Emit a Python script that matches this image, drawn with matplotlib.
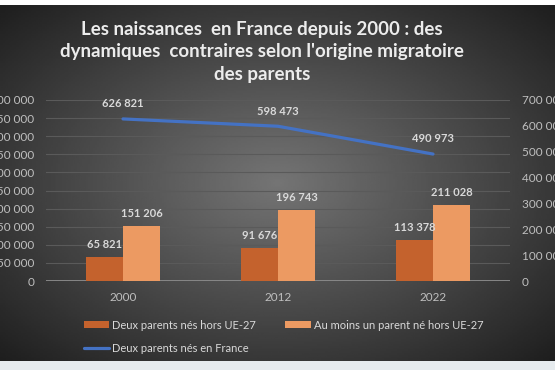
import matplotlib.pyplot as plt
import numpy as np
from matplotlib.patches import Rectangle

plt.rcParams['font.family'] = ['Lato', 'DejaVu Sans']

# data -----------------------------------
years = ['2000', '2012', '2022']
hors_ue = [65821, 91676, 113378]
un_parent_hors_ue = [151206, 196743, 211028]
parents_france = [626821, 598473, 490973]

title = ("Les naissances  en France depuis 2000 : des\n"
         "dynamiques  contraires selon l'origine migratoire\n"
         "des parents")


def fmt(v):
    return '{:,}'.format(int(v)).replace(',', ' ')


# figure -----------------------------------
fig = plt.figure(figsize=(5.55, 3.7), dpi=100)
fig.patch.set_facecolor('white')
fig.patches.append(Rectangle((0, 0), 1, 9 / 370, transform=fig.transFigure,
                             facecolor='#e6ebee', edgecolor='none', zorder=0))

# dark radial background
bg = fig.add_axes([0, 9 / 370, 1, 356 / 370])
yy, xx = np.mgrid[-1:1:200j, -1:1:300j]
r = np.sqrt(xx ** 2 + yy ** 2) / np.sqrt(2)
bg.imshow(r, cmap='gray_r', vmin=-1.6, vmax=1.35, aspect='auto',
          extent=[0, 1, 0, 1], interpolation='bilinear')
bg.set_axis_off()

ax = fig.add_axes([45.5 / 555, 89 / 370, 465 / 555, 181 / 370])
ax.set_facecolor('none')
ax2 = ax.twinx()

x = np.arange(len(years))
w = 0.24
txt = '#d9d9d9'

ax.bar(x - w / 2, hors_ue, width=w, color='#c4622d', label='Deux parents nés hors UE-27', zorder=3)
ax.bar(x + w / 2, un_parent_hors_ue, width=w, color='#ec9a62',
       label='Au moins un parent né hors UE-27', zorder=3)
ax2.plot(x, parents_france, color='#4472c4', lw=2.3, solid_capstyle='round',
         label='Deux parents nés en France', zorder=4)

for i in range(len(years)):
    ax.annotate(fmt(hors_ue[i]), (x[i] - w / 2, hors_ue[i]), xytext=(0, 5),
                textcoords='offset points', ha='center', va='bottom',
                color=txt, fontsize=8, fontweight='bold')
    ax.annotate(fmt(un_parent_hors_ue[i]), (x[i] + w / 2, un_parent_hors_ue[i]), xytext=(0, 5),
                textcoords='offset points', ha='center', va='bottom',
                color=txt, fontsize=8, fontweight='bold')
    ax2.annotate(fmt(parents_france[i]), (x[i], parents_france[i]), xytext=(0, 7),
                 textcoords='offset points', ha='center', va='bottom',
                 color=txt, fontsize=8, fontweight='bold')

ax.set_xlim(-0.5, 2.5)
ax.set_ylim(0, 500000)
ax2.set_ylim(0, 700000)
ax.set_yticks(np.arange(0, 500001, 50000))
ax2.set_yticks(np.arange(0, 700001, 100000))
ax.yaxis.set_major_formatter(plt.FuncFormatter(lambda v, p: fmt(v)))
ax2.yaxis.set_major_formatter(plt.FuncFormatter(lambda v, p: fmt(v)))
ax.set_xticks(x)
ax.set_xticklabels(years)

ax.grid(axis='y', color='#5a5a5a', lw=0.8, zorder=0)
ax.set_axisbelow(True)
for a in (ax, ax2):
    for s in a.spines.values():
        s.set_visible(False)
    a.tick_params(length=0, colors='#bfbfbf', labelsize=8.5)
ax.tick_params(axis='y', pad=8)
ax2.tick_params(axis='y', pad=8)
ax.tick_params(axis='x', pad=8)
ax.axhline(0, color='#8c8c8c', lw=1.3, zorder=2)

fig.text(262 / 555, 1 - 52 / 370, title, ha='center', va='center', color='#ececec',
         fontsize=13.5, fontweight='bold', linespacing=1.4)

h1, l1 = ax.get_legend_handles_labels()
h2, l2 = ax2.get_legend_handles_labels()
handles = [h1[0], h2[0], h1[1]]
labels = [l1[0], l2[0], l1[1]]
leg = fig.legend(handles, labels, ncol=2, loc='upper left',
                 bbox_to_anchor=(78 / 555, 1 - 314 / 370), frameon=False,
                 fontsize=8, labelcolor='#d9d9d9', handlelength=2.3,
                 handleheight=0.5, handletextpad=0.3, columnspacing=2.6,
                 labelspacing=1.1, borderpad=0)

plt.savefig('out.png', dpi=100)
